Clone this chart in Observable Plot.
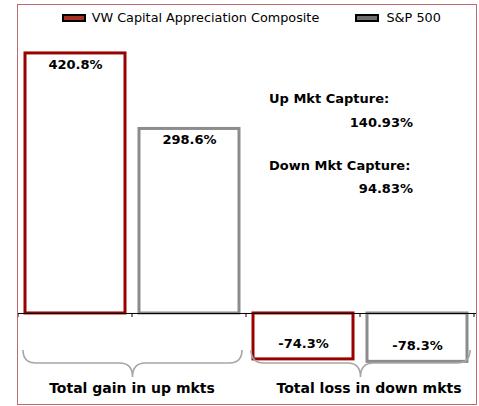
<!DOCTYPE html>
<html>
<head>
<meta charset="utf-8">
<script src="https://cdn.jsdelivr.net/npm/d3@7"></script>
<script src="https://cdn.jsdelivr.net/npm/@observablehq/plot@0.6"></script>
<style>
  html, body { margin: 0; padding: 0; background: #fff; }
  #wrap { position: relative; width: 479px; height: 406px; overflow: hidden; }
  #wrap svg { position: absolute; left: 0; top: 0; }
  .leg { position: absolute; font-family: "DejaVu Sans", sans-serif; font-size: 12.8px; line-height: 12.8px; color: #000; white-space: nowrap; }
  .sw { position: absolute; box-sizing: border-box; border: 2px solid #000; }
</style>
</head>
<body>
<div id="wrap"></div>
<script>
// ---- data ----
const categories = ["Up VW", "Up S&P", "Down VW", "Down S&P"];
const series = ["VW Capital Appreciation Composite", "S&P 500"];
const barSeries = [0, 1, 0, 1];
const values = [420.8, 298.6, -74.3, -78.3];
const valueLabels = ["420.8%", "298.6%", "-74.3%", "-78.3%"];
const groups = ["Total gain in up mkts", "Total loss in down mkts"];
const groupMembers = [[0, 1], [2, 3]];
const captureLabels = ["Up Mkt Capture:", "Down Mkt Capture:"];
const captureValues = ["140.93%", "94.83%"];

// ---- styles ----
const strokeColors = ["#990000", "#8C8C8C"];
const swatchFills = ["#A3321F", "#6E6E6E"];
const frameColor = "#BE6A6A";
const braceColor = "#A6A6A6";

const bars = categories.map((c, i) => ({
  cat: c, value: values[i], label: valueLabels[i], s: series[barSeries[i]], si: barSeries[i]
}));

// annotation layout (data units on y)
const captureY = [[347, 309], [239, 201]];
const braceTop = -60, braceMid = -81, braceTip = -103.6, groupLabelY = -121.4;
const groupLabelDx = [0, 9];

function groupDecor(index, scales) {
  const x = scales.x, y = scales.y;
  const step = x.step ? x.step() : (x(categories[1]) - x(categories[0]));
  const bw = x.bandwidth ? x.bandwidth() : step * 0.88;
  const pad = (step - bw) / 2;
  const g = d3.create("svg:g");
  const bounds = categories.map(c => x(c) - pad).concat([x(categories[categories.length - 1]) + bw + pad]);
  g.selectAll("line").data(bounds).join("line")
    .attr("x1", d => d).attr("x2", d => d)
    .attr("y1", y(0)).attr("y2", y(0) + 4)
    .attr("stroke", "#000").attr("stroke-width", 1);
  const T = y(braceTop), M = y(braceMid), P = y(braceTip), r = 13;
  groupMembers.forEach((m, gi) => {
    const L = x(categories[m[0]]) - 2;
    const R = x(categories[m[m.length - 1]]) + bw + 3;
    const C = (L + R) / 2;
    const d = `M${L},${T} Q${L},${M} ${L + r},${M} L${C - r},${M} Q${C},${M} ${C},${P} Q${C},${M} ${C + r},${M} L${R - r},${M} Q${R},${M} ${R},${T}`;
    g.append("path").attr("d", d).attr("fill", "none")
      .attr("stroke", braceColor).attr("stroke-width", 1.6);
    const mid = x(categories[m[1]]) - pad + groupLabelDx[gi];
    g.append("text").attr("x", mid).attr("y", y(groupLabelY)).attr("dy", "0.35em")
      .attr("text-anchor", "middle").attr("font-weight", "bold")
      .attr("font-size", 14).attr("fill", "#000").text(groups[gi]);
  });
  return g.node();
}

const capData = captureLabels.map((l, i) => ({ label: l, value: captureValues[i], y1: captureY[i][0], y2: captureY[i][1] }));

const plot = Plot.plot({
  width: 479,
  height: 406,
  marginLeft: 17,
  marginRight: 3,
  marginTop: 4,
  marginBottom: 2,
  style: { fontFamily: "DejaVu Sans, sans-serif", fontSize: "13px", background: "white", overflow: "visible" },
  x: { domain: categories, paddingInner: 0.12, paddingOuter: 0.06, axis: null },
  y: { domain: [-147.3, 500], axis: null },
  color: { domain: series, range: strokeColors },
  marks: [
    Plot.barY(bars, { x: "cat", y: "value", fill: "white", stroke: "s", strokeWidth: 3 }),
    Plot.ruleY([0], { stroke: "#000", strokeWidth: 1 }),
    Plot.text(bars.filter(d => d.value > 0), { x: "cat", y: "value", text: "label", dy: 11, fontWeight: "bold", fontSize: 13, fill: "#000" }),
    Plot.text(bars.filter(d => d.value < 0), { x: "cat", y: "value", text: "label", dy: -16, fontWeight: "bold", fontSize: 13, fill: "#000" }),
    Plot.text(capData, { x: () => categories[2], y: "y1", text: "label", textAnchor: "start", dx: -34.5, fontWeight: "bold", fontSize: 13, fill: "#000" }),
    Plot.text(capData, { x: () => categories[2], y: "y2", text: "value", textAnchor: "end", dx: 109.5, fontWeight: "bold", fontSize: 13, fill: "#000" }),
    groupDecor,
    Plot.frame({ stroke: frameColor, strokeWidth: 1 })
  ]
});

const wrap = document.getElementById("wrap");
wrap.appendChild(plot);

// legend
const legPos = [{ sw: 61.5, tx: 91.7 }, { sw: 355, tx: 386.5 }];
series.forEach((s, i) => {
  const sw = document.createElement("div");
  sw.className = "sw";
  sw.style.left = legPos[i].sw + "px";
  sw.style.top = "14px";
  sw.style.width = "24px";
  sw.style.height = "8px";
  sw.style.background = swatchFills[i];
  wrap.appendChild(sw);
  const t = document.createElement("div");
  t.className = "leg";
  t.style.left = legPos[i].tx + "px";
  t.style.top = "11.5px";
  t.textContent = s;
  wrap.appendChild(t);
});
</script>
</body>
</html>
